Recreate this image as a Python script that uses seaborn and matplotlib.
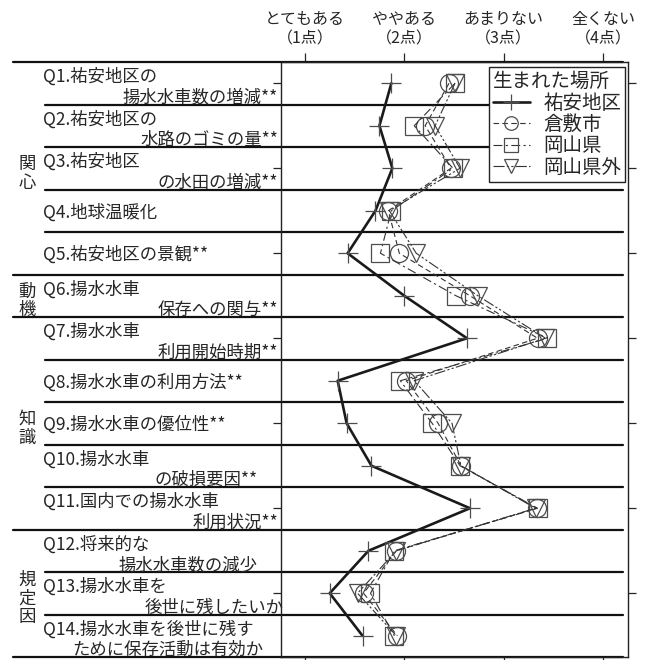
import matplotlib
matplotlib.use("Agg")
import matplotlib.pyplot as plt
import matplotlib.transforms as mtransforms
import seaborn as sns
import pandas as pd

sns.set_style("ticks")
plt.rcParams['font.family'] = ['Noto Sans CJK JP', 'DejaVu Sans']

# 質問 (1行目, 2行目)
q_line1 = ["Q1.祐安地区の", "Q2.祐安地区の", "Q3.祐安地区", "Q4.地球温暖化", "Q5.祐安地区の景観**",
           "Q6.揚水水車", "Q7.揚水水車", "Q8.揚水水車の利用方法**", "Q9.揚水水車の優位性**",
           "Q10.揚水水車", "Q11.国内での揚水水車", "Q12.将来的な", "Q13.揚水水車を",
           "Q14.揚水水車を後世に残す"]
q_line2 = ["揚水水車数の増減**", "水路のゴミの量**", "の水田の増減**", "", "",
           "保存への関与**", "利用開始時期**", "", "",
           "の破損要因**", "利用状況**", "揚水水車数の減少", "後世に残したいか",
           "ために保存活動は有効か"]
groups = ["関\n心", "動\n機", "知\n識", "規\n定\n因"]
group_rows = [(0, 4), (5, 5), (6, 10), (11, 13)]

tick_labels = ["とてもある\n（1点）", "ややある\n（2点）", "あまりない\n（3点）", "全くない\n（4点）"]

series = ["祐安地区", "倉敷市", "岡山県", "岡山県外"]
yasu = [1.87, 1.75, 1.88, 1.71, 1.43, 2.00, 2.63, 1.33, 1.42, 1.67, 2.66, 1.64, 1.25, 1.58]
kurashiki = [2.45, 2.21, 2.47, 1.84, 1.95, 2.66, 3.34, 2.02, 2.34, 2.57, 3.33, 1.92, 1.59, 1.93]
okayama = [2.51, 2.10, 2.49, 1.87, 1.76, 2.52, 3.44, 1.96, 2.28, 2.56, 3.34, 1.90, 1.66, 1.90]
outside = [2.51, 2.31, 2.56, 1.85, 2.12, 2.74, 3.42, 2.10, 2.48, 2.57, 3.32, 1.92, 1.53, 1.92]

rows = list(range(len(q_line1)))
df = pd.concat([pd.DataFrame({"score": v, "row": rows, "place": s})
                for s, v in zip(series, [yasu, kurashiki, okayama, outside])])

styles = {
    "祐安地区": dict(marker="+", ms=14.5, lw=1.9, linestyle="-", color="#1a1a1a"),
    "倉敷市": dict(marker="o", ms=13, lw=0.8, linestyle=(0, (5, 3)), color="#333333"),
    "岡山県": dict(marker="s", ms=13.5, lw=0.8, linestyle=(0, (8, 3, 2, 3)), color="#333333"),
    "岡山県外": dict(marker="v", ms=13.5, lw=0.8, linestyle=(0, (10, 2, 2, 2, 2, 2)), color="#333333"),
}

W, H = 646, 660
fig = plt.figure(figsize=(W / 100, H / 100), dpi=100)
ax = fig.add_axes([281 / W, 1 - 657 / H, (628 - 281) / W, (657 - 62) / H])

for s in series:
    st = styles[s]
    sns.lineplot(data=df[df["place"] == s], x="score", y="row", orient="y", sort=True,
                 errorbar=None, ax=ax, label=s, color=st["color"], lw=st["lw"],
                 linestyle=st["linestyle"], marker=st["marker"], ms=st["ms"],
                 fillstyle="none", mec="#4d4d4d", mew=0.9, zorder=3)

ax.set_xlim(0.76, 4.25)
ax.set_ylim(13.5, -0.5)
ax.set_xlabel("")
ax.set_ylabel("")
ax.set_xticks([1, 2, 3, 4])
ax.set_xticklabels(tick_labels, fontsize=11.5, linespacing=1.2)
ax.set_yticks(rows[::2])
ax.set_yticklabels([])
ax.tick_params(axis="x", top=True, bottom=True, labeltop=True, labelbottom=False,
               direction="out", length=6.5, width=0.9, pad=4)
ax.tick_params(axis="y", left=True, right=True, direction="out", length=6, width=0.9)
for sp in ax.spines.values():
    sp.set_linewidth(1.0)
    sp.set_color("#222222")

# 区切り線と質問ラベル
tr = mtransforms.blended_transform_factory(fig.transFigure, ax.transData)
group_edges = {-0.5, 4.5, 5.5, 10.5, 13.5}
for k in range(len(rows) + 1):
    yb = k - 0.5
    x0 = 13 if yb in group_edges else 45
    ax.plot([x0 / W, 623 / W], [yb, yb], color="#111111", lw=1.6, transform=tr,
            clip_on=False, zorder=1)

line2_end = [278, 278, 278, 0, 0, 278, 278, 0, 0, 258, 278, 258, 284, 263]
for i in rows:
    if q_line2[i]:
        ax.text(43 / W, i - 0.15, q_line1[i], transform=tr, ha="left", va="center", fontsize=12.5)
        ax.text(line2_end[i] / W, i + 0.34, q_line2[i], transform=tr, ha="right", va="center",
                fontsize=12.5)
    else:
        ax.text(43 / W, i + 0.04, q_line1[i], transform=tr, ha="left", va="center", fontsize=12.5)

for g, (a, b) in zip(groups, group_rows):
    ax.text(27 / W, (a + b) / 2 + 0.12, g, transform=tr, ha="center", va="center",
            fontsize=12.5, linespacing=1.05)

leg = ax.legend(title="生まれた場所", loc="upper right", bbox_to_anchor=(0.992, 0.991),
                borderaxespad=0, fontsize=14, title_fontsize=14, frameon=True, fancybox=False,
                edgecolor="#222222", framealpha=1, labelspacing=0.02, handlelength=1.9,
                handletextpad=0.7, borderpad=0.2, markerscale=0.75, alignment="left")
leg.get_frame().set_linewidth(1.0)
leg.set_zorder(5)

fig.savefig("out.png", dpi=100)
